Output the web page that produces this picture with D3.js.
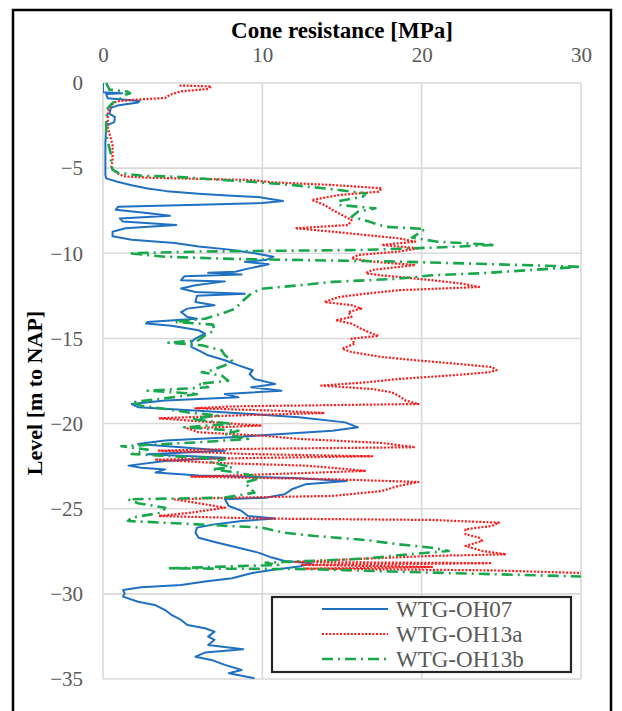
<!DOCTYPE html>
<html>
<head>
<meta charset="utf-8">
<script src="https://cdn.jsdelivr.net/npm/d3@7"></script>
<style>
body{margin:0;background:#fff}
text{font-family:"Liberation Serif","Times New Roman",serif}
</style>
</head>
<body>
<div id="chart"></div>
<script>
var width = 622
var height = 711
var plotLeft = 103, plotTop = 83, plotW = 478, plotH = 596

var xTicks = [0,10,20,30]
var yTicks = [0,-5,-10,-15,-20,-25,-30,-35]
var seriesNames = ["WTG-OH07","WTG-OH13a","WTG-OH13b"]
var seriesColors = ["#1f70c1","#ff1a1a","#18a74b"]

// [level m NAP, cone resistance MPa]
var oh07 = [[0,0],[-0.55,0],[-0.6,1.2],[-0.65,0.2],[-0.9,0.3],[-1.05,2.3],[-1.15,2.2],[-1.3,1.0],[-1.45,0.5],[-1.8,0.4],[-2.0,0.75],[-2.3,0.7],[-2.5,0.2],[-3.5,0.15],[-4.5,0.15],[-5.4,0.15],[-5.6,0.2],[-5.8,0.9],[-6.0,1.8],[-6.2,2.8],[-6.35,4.0],[-6.5,6.0],[-6.6,7.8],[-6.7,9.75],[-6.8,10.4],[-6.93,11.3],[-7.05,10.0],[-7.15,6.0],[-7.26,0.95],[-7.45,0.8],[-7.65,2.9],[-7.8,4.2],[-7.95,1.05],[-8.14,1.25],[-8.34,4.6],[-8.53,1.4],[-8.73,0.6],[-9.0,0.6],[-9.2,1.8],[-9.4,4.5],[-9.6,6.0],[-9.8,8.1],[-10.0,9.5],[-10.2,10.7],[-10.4,10.2],[-10.5,8.9],[-10.65,10.4],[-10.9,9.1],[-11.08,8.3],[-11.15,6.6],[-11.25,8.7],[-11.35,5.1],[-11.58,4.9],[-11.65,7.65],[-11.88,5.8],[-12.07,4.9],[-12.27,5.8],[-12.37,8.9],[-12.5,5.9],[-12.86,5.8],[-13.05,7.0],[-13.25,5.3],[-13.45,4.9],[-13.74,5.3],[-13.84,5.9],[-14.03,2.8],[-14.13,2.7],[-14.25,4.3],[-14.52,6.0],[-14.72,6.4],[-15.01,5.8],[-15.21,5.55],[-15.5,5.55],[-15.7,6.0],[-15.99,6.6],[-16.28,7.65],[-16.58,8.5],[-16.87,9.4],[-17.09,9.2],[-17.38,9.5],[-17.67,10.8],[-17.87,9.3],[-18.07,11.2],[-18.26,7.65],[-18.46,8.5],[-18.65,3.9],[-18.85,1.8],[-19.04,2.2],[-19.24,6.0],[-19.44,9.3],[-19.63,12.3],[-19.93,15.2],[-20.22,16.0],[-20.42,14.4],[-20.61,11.2],[-20.8,8.1],[-21.0,3.9],[-21.2,2.2],[-21.4,5.1],[-21.6,7.65],[-21.8,2.8],[-22.0,7.65],[-22.2,3.9],[-22.47,1.6],[-22.6,2.4],[-22.69,3.9],[-22.88,3.3],[-23.05,6.0],[-23.2,12.0],[-23.37,15.3],[-23.57,12.7],[-23.86,11.85],[-24.15,11.4],[-24.35,10.2],[-24.45,7.65],[-24.84,7.9],[-25.13,8.7],[-25.43,9.1],[-25.58,10.8],[-25.72,8.7],[-25.92,7.0],[-26.11,5.9],[-26.41,5.8],[-26.7,6.0],[-27.0,7.2],[-27.29,8.5],[-27.58,9.75],[-27.87,10.6],[-28.07,11.4],[-28.2,13.1],[-28.4,12.3],[-28.6,10.6],[-28.79,9.3],[-29.08,8.1],[-29.28,6.4],[-29.48,4.9],[-29.61,2.4],[-29.77,1.26],[-29.97,1.36],[-30.16,1.26],[-30.46,2.2],[-30.65,3.25],[-30.95,3.9],[-31.24,4.3],[-31.53,4.9],[-31.83,5.3],[-32.02,6.4],[-32.22,7.0],[-32.51,6.6],[-32.7,7.0],[-33.0,6.6],[-33.25,8.8],[-33.45,6.4],[-33.69,5.8],[-33.88,6.8],[-34.17,7.65],[-34.47,8.7],[-34.66,7.9],[-34.95,9.5]]

var oh13a = [[-0.15,4.8],[-0.2,6.8],[-0.35,6.6],[-0.49,4.9],[-0.69,4.2],[-0.88,3.9],[-0.98,2.0],[-1.08,0.85],[-1.27,0.55],[-1.66,0.3],[-2.64,0.3],[-3.62,0.6],[-4.6,0.6],[-4.99,0.5],[-5.28,0.85],[-5.48,1.3],[-5.56,2.8],[-5.7,9.3],[-5.83,10.6],[-5.99,14.4],[-6.18,17.5],[-6.38,17.3],[-6.58,14.8],[-6.87,13.1],[-7.16,13.9],[-7.46,14.4],[-7.75,15.0],[-8.04,15.6],[-8.34,15.4],[-8.53,12.05],[-8.73,14.4],[-8.93,16.5],[-9.12,18.55],[-9.32,19.6],[-9.51,17.5],[-9.71,19.8],[-9.9,18.55],[-10.1,16.0],[-10.3,15.6],[-10.49,16.9],[-10.69,19.6],[-10.98,16.9],[-11.17,16.5],[-11.3,17.5],[-11.39,18.55],[-11.58,20.65],[-11.78,22.5],[-11.98,23.6],[-12.17,18.55],[-12.37,16.5],[-12.57,14.8],[-12.86,13.9],[-13.05,15.6],[-13.25,16.2],[-13.45,15.4],[-13.74,15.6],[-13.93,14.6],[-14.13,15.6],[-14.43,16.2],[-14.72,16.9],[-14.85,17.3],[-15.01,15.6],[-15.31,15.8],[-15.6,15.0],[-15.8,15.6],[-16.09,17.5],[-16.28,19.6],[-16.48,22.1],[-16.68,24.4],[-16.87,24.7],[-16.99,24.2],[-17.18,21.7],[-17.38,18.55],[-17.58,16.5],[-17.77,13.7],[-17.97,16.9],[-18.16,18.1],[-18.36,18.55],[-18.65,19.0],[-18.85,19.8],[-18.99,8.1],[-19.1,5.8],[-19.24,10.8],[-19.38,13.9],[-19.53,8.1],[-19.69,3.5],[-19.93,7.0],[-20.12,9.95],[-20.28,5.3],[-20.51,6.0],[-20.71,9.95],[-20.9,12.3],[-21.14,17.5],[-21.39,19.6],[-21.49,8.5],[-21.59,3.5],[-21.79,9.1],[-21.92,16.9],[-22.04,8.1],[-22.12,3.25],[-22.31,7.0],[-22.47,12.7],[-22.6,14.4],[-22.78,16.5],[-22.98,10.2],[-23.12,5.55],[-23.27,14.4],[-23.43,19.8],[-23.66,18.55],[-23.96,17.5],[-24.25,14.4],[-24.35,8.1],[-24.45,4.5],[-24.74,6.4],[-24.94,7.65],[-25.23,5.55],[-25.43,3.5],[-25.58,10.2],[-25.66,20.65],[-25.82,24.85],[-26.01,24.4],[-26.21,22.75],[-26.5,22.75],[-26.7,23.6],[-26.89,23.8],[-27.19,22.75],[-27.48,23.8],[-27.68,25.3],[-27.77,20.65],[-27.93,16.5],[-28.13,12.0],[-28.2,24.4],[-28.3,12.5],[-28.42,20.65],[-28.52,12.6],[-28.62,24.4],[-28.8,31]]

var oh13b = [[0,0.2],[-0.39,0.4],[-0.5,1.5],[-0.6,1.7],[-0.69,1.4],[-0.88,1.15],[-1.17,0.6],[-1.47,0.3],[-2.2,0.2],[-3.03,0.2],[-3.43,0.3],[-4.2,0.5],[-4.7,0.5],[-5.09,0.6],[-5.28,0.95],[-5.45,2.5],[-5.5,4.5],[-5.64,6.6],[-5.8,9.3],[-5.99,11.85],[-6.28,14.8],[-6.48,16.5],[-6.68,16.3],[-6.93,14.8],[-7.16,14.8],[-7.36,17.1],[-7.56,16.0],[-7.85,15.6],[-8.14,16.7],[-8.44,17.7],[-8.57,20.2],[-8.83,19.8],[-9.08,19.4],[-9.32,21.0],[-9.51,24.6],[-9.67,20.65],[-9.8,16.5],[-9.9,6.0],[-10.0,1.6],[-10.2,3.9],[-10.33,8.1],[-10.49,18.55],[-10.65,24.8],[-10.79,30],[-10.98,26.9],[-11.17,23.8],[-11.29,20.65],[-11.49,18.55],[-11.68,14.4],[-11.88,12.3],[-12.08,9.95],[-12.37,9.3],[-12.86,8.7],[-13.25,8.3],[-13.55,7.45],[-13.84,6.4],[-14.03,4.5],[-14.19,6.9],[-14.52,7.0],[-14.82,6.4],[-15.11,6.0],[-15.25,4.1],[-15.4,6.2],[-15.7,7.45],[-15.99,7.65],[-16.28,8.1],[-16.58,7.65],[-16.87,6.8],[-16.99,6.2],[-17.18,7.45],[-17.48,7.86],[-17.67,6.0],[-17.87,6.6],[-18.07,2.8],[-18.26,6.0],[-18.56,3.5],[-18.75,1.8],[-18.95,2.4],[-19.14,3.9],[-19.34,5.3],[-19.53,7.2],[-19.73,5.55],[-20.02,8.1],[-20.22,5.1],[-20.42,8.5],[-20.61,7.65],[-20.9,9.1],[-21.1,6.0],[-21.33,1.15],[-21.53,2.8],[-21.79,1.8],[-22.08,7.65],[-22.27,6.8],[-22.57,8.1],[-22.69,6.8],[-22.88,8.5],[-23.18,9.95],[-23.47,8.9],[-23.66,9.1],[-24.06,9.5],[-24.35,7.65],[-24.45,1.57],[-24.68,2.2],[-24.94,3.9],[-25.23,3.7],[-25.52,1.8],[-25.72,1.57],[-25.92,6.0],[-26.11,9.95],[-26.41,11.4],[-26.6,13.3],[-26.84,16.5],[-27.09,18.55],[-27.29,20.65],[-27.48,21.7],[-27.73,18.55],[-27.93,16.5],[-28.17,10.2],[-28.3,11.0],[-28.5,4.1],[-28.55,13.1],[-28.69,18.1],[-28.99,30.5]]

var svg = d3.select("#chart").append("svg")
	.attr("width",width)
	.attr("height",height)

// outer frame
svg.append("rect")
	.attr("x",13).attr("y",10)
	.attr("width",598).attr("height",720)
	.style("fill","none").style("stroke","#000").style("stroke-width",2.5)

var x = d3.scaleLinear().domain([0,30]).range([plotLeft,plotLeft+plotW])
var y = d3.scaleLinear().domain([0,-35]).range([plotTop,plotTop+plotH])

var grid = svg.append("g").style("stroke","#d9d9d9").style("stroke-width",1.6)
grid.selectAll(".gx").data(xTicks).enter().append("line")
	.attr("x1",function(d){return x(d)}).attr("x2",function(d){return x(d)})
	.attr("y1",y(0)).attr("y2",y(-35))
grid.selectAll(".gy").data(yTicks).enter().append("line")
	.attr("y1",function(d){return y(d)}).attr("y2",function(d){return y(d)})
	.attr("x1",x(0)).attr("x2",x(30))

var xAxis = d3.axisTop(x).tickValues(xTicks).tickSize(0).tickPadding(21).tickFormat(d3.format("d"))
var yAxis = d3.axisLeft(y).tickValues(yTicks).tickSize(0).tickPadding(20).tickFormat(d3.format("d"))

svg.append("g").attr("transform","translate(0,"+plotTop+")").call(xAxis)
svg.append("g").attr("transform","translate("+plotLeft+",0)").call(yAxis)
svg.selectAll(".domain").remove()
svg.selectAll(".tick text")
	.style("font-family","'Liberation Serif',serif")
	.style("font-size","21px")
	.style("fill","#595959")

svg.append("defs").append("clipPath").attr("id","plotClip")
	.append("rect").attr("x",plotLeft).attr("y",plotTop-2).attr("width",plotW).attr("height",plotH+4)

var line = d3.line()
	.x(function(d){return x(d[1])})
	.y(function(d){return y(d[0])})

var styles = [
	{w:2, dash:null},
	{w:2.2, dash:"2,1.6"},
	{w:2.6, dash:"11,5,2,5"}
]
var allSeries = [oh07,oh13a,oh13b]

var lines = svg.append("g").attr("clip-path","url(#plotClip)")
allSeries.forEach(function(s,i){
	lines.append("path")
		.datum(s)
		.attr("d",line)
		.style("fill","none")
		.style("stroke",seriesColors[i])
		.style("stroke-width",styles[i].w)
		.style("stroke-dasharray",styles[i].dash)
		.style("stroke-linejoin","round")
})

// titles
svg.append("text")
	.attr("x",x(15)).attr("y",38)
	.style("text-anchor","middle")
	.style("font-size","23px").style("font-weight","bold")
	.text("Cone resistance [MPa]")
svg.append("text")
	.attr("transform","translate(42,"+(plotTop+plotH/2+12)+") rotate(-90)")
	.style("text-anchor","middle")
	.style("font-size","22px").style("font-weight","bold")
	.text("Level [m to NAP]")

// legend
var legend = svg.append("g")
legend.append("rect")
	.attr("x",272).attr("y",597).attr("width",299).attr("height",75)
	.style("fill","#fff").style("stroke","#262626").style("stroke-width",2.2)
seriesNames.forEach(function(n,i){
	var ly = 609 + i*25
	legend.append("line")
		.attr("x1",322).attr("x2",388).attr("y1",ly).attr("y2",ly)
		.style("stroke",seriesColors[i])
		.style("stroke-width",styles[i].w)
		.style("stroke-dasharray",styles[i].dash)
	legend.append("text")
		.attr("x",396).attr("y",ly+8)
		.style("font-size","23px").style("fill","#595959")
		.text(n)
})
</script>
</body>
</html>
